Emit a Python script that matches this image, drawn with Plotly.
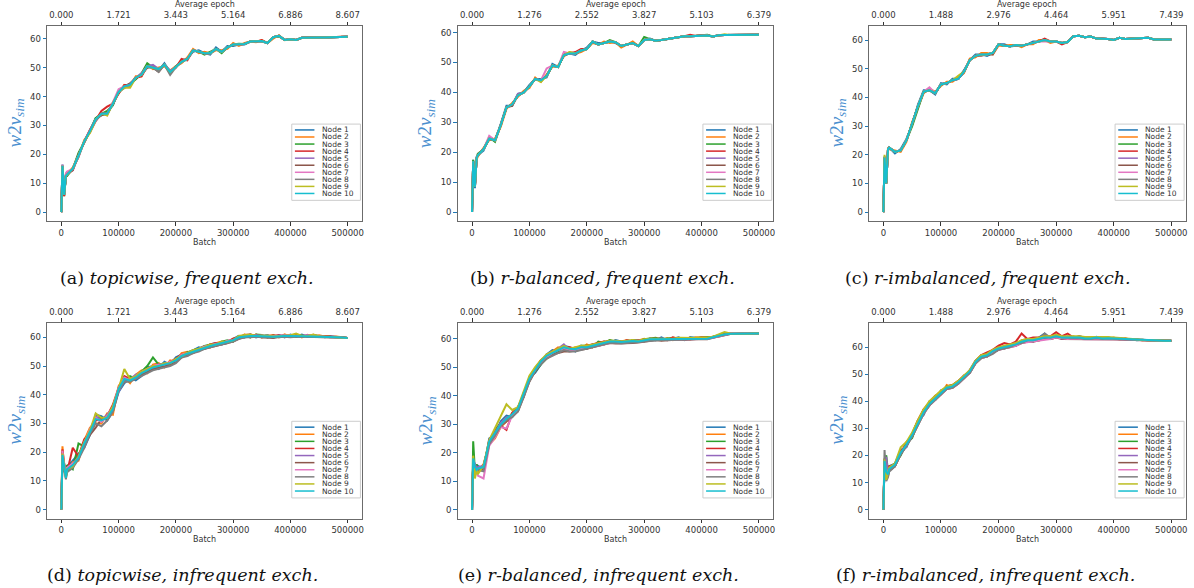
import plotly.graph_objects as go

# ---------------- data ----------------
BATCH = [0, 2000, 5000, 8000,
         10000, 20000, 30000, 40000, 50000, 60000, 70000, 80000, 90000, 100000,
         110000, 120000, 130000, 140000, 150000, 160000, 170000, 180000, 190000, 200000,
         210000, 220000, 230000, 240000, 250000, 260000, 270000, 280000, 290000, 300000,
         310000, 320000, 330000, 340000, 350000, 360000, 370000, 380000, 390000, 400000,
         410000, 420000, 430000, 440000, 450000, 460000, 470000, 480000, 490000, 500000]

BATCH_TICKS = [0, 100000, 200000, 300000, 400000, 500000]
Y_TICKS = [0, 10, 20, 30, 40, 50, 60]
EPOCH_TOPICWISE = ["0.000", "1.721", "3.443", "5.164", "6.886", "8.607"]
EPOCH_RBALANCED = ["0.000", "1.276", "2.552", "3.827", "5.103", "6.379"]
EPOCH_RIMBALANCED = ["0.000", "1.488", "2.976", "4.464", "5.951", "7.439"]
NODES = ["Node %d" % k for k in range(1, 11)]
CAPTIONS = [
    ("(a)", "topicwise, frequent exch."),
    ("(b)", "r-balanced, frequent exch."),
    ("(c)", "r-imbalanced, frequent exch."),
    ("(d)", "topicwise, infrequent exch."),
    ("(e)", "r-balanced, infrequent exch."),
    ("(f)", "r-imbalanced, infrequent exch."),
]

topicwise_frequent = [
    [0, 16.5, 6.5, 13, 13.5, 14.5, 20, 24, 28.5, 32.5,
     33.5, 34.5, 37, 42, 43, 44.5, 46, 48, 50, 50.5,
     49, 51.5, 48.5, 50, 52.5, 53, 55.5, 56, 55, 54.5,
     57, 55.5, 57.5, 57.5, 58, 58, 59, 59.2, 59, 58.5,
     60.5, 61, 59.6, 59.8, 59.6, 60.3, 60.4, 60.4, 60.4, 60.4,
     60.5, 60.6, 60.7, 60.7],
    [0, 15.5, 7, 12, 13, 15.5, 19, 25, 27.5, 31.5,
     34.5, 33.5, 38, 41, 44, 43.5, 47, 47, 51, 49.5,
     50, 50.5, 49, 50.5, 51.5, 53.5, 56.5, 55, 55.5, 55,
     56, 56, 56.5, 58.5, 57.5, 58.5, 59, 58.8, 59.5, 58.5,
     60, 61.2, 59.5, 59.8, 59.6, 60.3, 60.4, 60.4, 60.4, 60.4,
     60.5, 60.6, 60.7, 60.7],
    [0, 16, 5.5, 12.5, 12.5, 15, 20.5, 24, 28, 32.5,
     34, 35, 37, 42, 43.5, 44, 46, 48, 51.5, 50,
     49.5, 51, 48, 50.5, 52, 53, 56, 55.5, 54.5, 55.5,
     56.5, 55, 57, 58, 58.3, 58.2, 59, 59, 59.2, 58.5,
     60.5, 60.8, 59.6, 59.8, 59.6, 60.3, 60.4, 60.4, 60.4, 60.4,
     60.5, 60.6, 60.7, 60.7],
    [0, 15, 5.5, 13, 13, 14.5, 19.5, 24.5, 28.5, 32,
     35, 36.5, 37.5, 41, 44, 44, 46.5, 47, 50.5, 50.5,
     49.5, 51, 48.5, 50, 53, 52.5, 56, 55.5, 55, 55,
     56.5, 55.5, 57, 58, 58, 58.2, 59, 59, 59.5, 58.5,
     60.5, 61, 59.6, 59.8, 59.6, 60.3, 60.4, 60.4, 60.4, 60.4,
     60.5, 60.6, 60.7, 60.7],
    [0, 16, 6, 12.5, 13, 15, 19, 24.5, 28, 31.5,
     34, 34, 37.5, 41.5, 43, 44, 46.5, 48, 50.5, 51,
     49.5, 51, 49, 50.2, 52, 53, 56, 55.5, 55, 55,
     56.5, 55.5, 57, 58, 58, 58.2, 59, 59, 59.2, 58.5,
     60.5, 61, 59.6, 59.8, 59.6, 60.3, 60.4, 60.4, 60.4, 60.4,
     60.5, 60.6, 60.7, 60.7],
    [0, 16, 6.5, 12, 13, 15, 20, 24, 28, 32,
     33.5, 34, 37.5, 41.5, 43.5, 44.5, 46.5, 47.5, 50, 50,
     48.5, 51, 48.5, 50.2, 52, 53, 56, 55.5, 55, 55,
     56.5, 55.5, 57, 58, 58, 58.2, 59, 59, 59.2, 58.5,
     60.5, 61, 59.6, 59.8, 59.6, 60.3, 60.4, 60.4, 60.4, 60.4,
     60.5, 60.6, 60.7, 60.7],
    [0, 16.5, 6, 13.5, 14, 15, 19.5, 24.5, 28, 32,
     34, 34, 38, 42.5, 43.5, 44, 46.5, 47.5, 50.5, 50,
     49.5, 51, 48.5, 50.2, 52, 53, 56, 55.5, 55, 55,
     56.5, 55.5, 57, 58, 58, 58.2, 59, 59, 59.2, 58.5,
     60.5, 61, 59.6, 59.8, 59.6, 60.3, 60.4, 60.4, 60.4, 60.4,
     60.5, 60.6, 60.7, 60.7],
    [0, 16, 6, 12.5, 13, 15, 19.5, 24.5, 28, 32,
     34, 34, 37.5, 41.5, 43.5, 44, 46.5, 47.5, 50.5, 50,
     48.5, 51, 47.5, 50.2, 52, 53, 56, 55.5, 55, 55,
     56.5, 55.5, 57, 58, 58, 58.2, 59, 59, 59.2, 58.5,
     60.5, 61, 59.6, 59.8, 59.6, 60.3, 60.4, 60.4, 60.4, 60.4,
     60.5, 60.6, 60.7, 60.7],
    [0, 16, 6, 12.5, 13, 15, 19.5, 24.5, 27.5, 32,
     34, 33.5, 37.5, 41.5, 43, 43, 46.5, 47.5, 50.5, 50,
     49.5, 51, 48.5, 50.2, 52, 53, 56, 55.5, 55, 55,
     56.5, 55.5, 57, 58, 58, 58.2, 59, 59, 59.2, 58.5,
     60.5, 61, 59.6, 59.8, 59.6, 60.3, 60.4, 60.4, 60.4, 60.4,
     60.5, 60.6, 60.7, 60.7],
    [0, 16, 6, 12.5, 13, 15, 19.5, 24.5, 28, 32,
     34, 34, 37.5, 41.5, 43.5, 44, 46.5, 47.5, 50.5, 50,
     49.5, 51, 48.5, 50.2, 52, 53, 56, 55.5, 55, 55,
     56.5, 55.5, 57, 58, 58, 58.2, 59, 59, 59.2, 58.5,
     60.5, 61, 59.6, 59.8, 59.6, 60.3, 60.4, 60.4, 60.4, 60.4,
     60.5, 60.6, 60.7, 60.7],
]

rbalanced_frequent = [
    [0, 17.5, 8, 18.5, 19, 20.5, 25, 24, 29.5, 35.5,
     35.5, 39.5, 40, 42.5, 44.5, 44.5, 45, 49.5, 48.5, 53,
     53, 52.5, 54, 55, 57, 56.5, 56.5, 57, 56.5, 55.5,
     56, 56.5, 55.5, 57.5, 58, 57.3, 57.5, 57.8, 58, 58.5,
     58.8, 58.8, 58.9, 59, 59, 58.7, 59.1, 59.2, 59.2, 59.2,
     59.3, 59.3, 59.3, 59.3],
    [0, 16.5, 9, 17.5, 18.5, 21.5, 24, 24.5, 28.5, 34.5,
     36.5, 38.5, 40.5, 41.5, 45, 43.5, 46, 48.5, 49, 52,
     53.5, 53, 53.5, 54.5, 56.5, 56, 57, 56.5, 56.8, 55,
     56, 57, 55.5, 57.5, 57.8, 57.3, 57.5, 57.8, 58, 58.5,
     58.8, 58.8, 58.9, 59, 59, 58.7, 59.1, 59.2, 59.2, 59.2,
     59.3, 59.3, 59.3, 59.3],
    [0, 17.5, 8.5, 18, 19.5, 21, 25, 23.5, 29, 35,
     36, 39, 40, 42, 44.5, 44, 45.5, 49, 48.5, 52.5,
     53, 53, 54, 54.5, 57, 56, 56.5, 57.5, 56.8, 55.5,
     56, 56.5, 55.5, 58.5, 57.8, 57.3, 57.5, 57.8, 58, 58.5,
     58.8, 58.8, 58.9, 59, 59.3, 58.7, 59.1, 59.2, 59.2, 59.2,
     59.3, 59.3, 59.3, 59.3],
    [0, 17, 8.5, 18, 19, 21, 24.5, 24, 29, 35,
     36, 39, 40, 42, 44.5, 44, 45.5, 49, 48.5, 52.5,
     53, 53.5, 54.5, 54.5, 57, 56, 56.5, 57, 56.8, 55.5,
     56, 56.5, 55.5, 57.5, 57.8, 57.3, 57.5, 57.8, 58, 58.5,
     58.8, 59.3, 58.9, 59, 59, 58.7, 59.1, 59.2, 59.2, 59.2,
     59.3, 59.3, 59.3, 59.3],
    [0, 17, 8.5, 18, 19, 21, 24.5, 24, 29, 35,
     36, 39.5, 40, 42, 44.5, 44, 45.5, 49, 48.5, 52.5,
     53, 53, 54, 54.5, 57, 56, 56.5, 57, 56.8, 55.5,
     56, 56.5, 55.5, 57.5, 57.8, 57.3, 57.5, 57.8, 58, 58.5,
     58.8, 58.8, 58.9, 59, 59, 58.7, 59.1, 59.2, 59.2, 59.2,
     59.3, 59.3, 59.3, 59.3],
    [0, 17, 8.5, 18, 19, 21, 24.5, 24, 29, 35,
     35.5, 39, 40, 42, 44.5, 44, 45.5, 49, 48.5, 52.5,
     53, 53, 54, 54.5, 57, 56, 56.5, 57, 56.8, 55.5,
     56, 56.5, 55.5, 57.5, 57.8, 57.3, 57.5, 57.8, 58, 58.5,
     58.8, 58.8, 58.9, 59, 59, 58.7, 59.1, 59.2, 59.2, 59.2,
     59.3, 59.3, 59.3, 59.3],
    [0, 17, 8.5, 18, 19, 21, 25.5, 24, 29, 35,
     36, 39, 40, 42, 44.5, 44, 48, 49, 48.5, 53.5,
     53, 53, 54, 54.5, 57, 56, 56.5, 57, 56.8, 55.5,
     56, 56.5, 55.5, 57.5, 57.8, 57.3, 57.5, 57.8, 58, 58.5,
     58.8, 58.8, 58.9, 59, 59, 58.7, 59.1, 59.2, 59.2, 59.2,
     59.3, 59.3, 59.3, 59.3],
    [0, 17, 8.5, 18, 19, 21, 24.5, 24, 29, 35,
     36, 39, 40, 42, 44.5, 44, 45.5, 49, 48.5, 52.5,
     53, 53, 54, 54.5, 57, 56, 56.5, 57, 56.8, 55.5,
     56, 56.5, 55.5, 57.5, 57.8, 57.3, 57.5, 57.8, 58, 58.5,
     58.8, 58.8, 58.9, 59, 59, 58.7, 59.1, 59.2, 59.2, 59.2,
     59.3, 59.3, 59.3, 59.3],
    [0, 17, 8.5, 18, 19, 21, 24.5, 24, 29, 35,
     36, 39, 40, 42, 44.5, 43.5, 45.5, 49, 48.5, 52.5,
     53.5, 53, 54, 54.5, 57, 56, 56.5, 57, 56.8, 55.5,
     56, 56.5, 55.5, 57.5, 57.8, 57.3, 57.5, 57.8, 58, 58.5,
     58.8, 58.8, 58.9, 59, 59, 58.7, 59.1, 59.4, 59.2, 59.2,
     59.3, 59.3, 59.3, 59.3],
    [0, 17, 8.5, 18, 19, 21, 24.5, 24, 29, 35,
     36, 39, 40, 42, 44.5, 44, 45.5, 49, 48.5, 52.5,
     53, 53, 54, 54.5, 57, 56, 56.5, 57, 56.8, 55.5,
     56, 56.5, 55.5, 57.5, 57.8, 57.3, 57.5, 57.8, 58, 58.5,
     58.8, 58.8, 58.9, 59, 59, 58.7, 59.1, 59.2, 59.2, 59.2,
     59.3, 59.3, 59.3, 59.3],
]

rimbalanced_frequent = [
    [0, 19.5, 10.5, 21.5, 22.5, 20.5, 22, 25.5, 30.5, 37.5,
     42.5, 42.5, 41, 45, 44.5, 46.5, 46.5, 49.5, 53, 55,
     55, 54.5, 55.5, 58.5, 58.5, 57.8, 58, 58, 58.5, 59.5,
     59.5, 60, 59.5, 59.5, 59, 59.3, 61.3, 61.5, 61, 61.2,
     60.5, 60.5, 60.4, 60, 60.8, 60.4, 60.5, 60.5, 60.6, 60.8,
     60.2, 60.2, 60.2, 60.2],
    [0, 18.5, 10, 22.5, 22, 21.5, 21, 24.5, 31.5, 36.5,
     41.5, 43, 42, 44, 45.5, 45.5, 47, 48.5, 53.5, 54,
     55.5, 55.5, 55, 58, 58, 58.3, 58.3, 57.5, 58.5, 58.5,
     60, 60, 59, 59.5, 59, 59.3, 61.3, 61.5, 61, 61.2,
     60.5, 60.5, 60.4, 60, 60.8, 60.4, 60.5, 60.5, 60.6, 60.8,
     60.2, 60.2, 60.2, 60.2],
    [0, 19, 10, 22, 22.5, 21, 21.5, 25, 30, 36,
     42, 42.5, 41.5, 44.5, 45, 46, 46.5, 49, 53, 54.5,
     55, 55, 55.5, 58.5, 58, 57.8, 58.3, 58, 58.5, 59,
     59.5, 60, 59.5, 59.5, 59, 59.3, 61.3, 61.5, 61, 61.2,
     60.5, 60.5, 60.4, 60, 60.8, 60.4, 60.5, 60.5, 60.6, 60.8,
     60.2, 60.2, 60.2, 60.2],
    [0, 19, 10, 22, 22.5, 21, 21.5, 25, 31, 37,
     42, 42.5, 41.5, 44.5, 45, 46, 46.5, 49, 53, 54.5,
     55, 55, 55.5, 58.5, 58, 57.8, 58.3, 58, 58.5, 59,
     59.5, 60.5, 59.5, 59.5, 58.5, 59.3, 61.3, 61.5, 61, 61.2,
     60.5, 60.5, 60.4, 60, 60.8, 60.4, 60.5, 60.5, 60.6, 60.8,
     60.2, 60.2, 60.2, 60.2],
    [0, 19, 10, 22, 22.5, 21, 21.5, 25, 31, 37,
     42, 43, 41.5, 44.5, 45, 46, 46.5, 49, 53, 54.5,
     55, 55, 55.5, 58.5, 58, 57.8, 58.3, 58, 58.5, 59,
     59.5, 60, 59.5, 59.5, 59, 59.3, 61.3, 61.5, 61, 61.2,
     60.5, 60.5, 60.4, 60, 60.8, 60.4, 60.5, 60.5, 60.6, 60.8,
     60.2, 60.2, 60.2, 60.2],
    [0, 19, 10, 22, 22.5, 21, 21.5, 25, 31, 37,
     42, 42.5, 41.5, 44.5, 45, 46, 46.5, 49, 53, 54.5,
     54.5, 55, 55, 58.5, 58, 57.8, 58.3, 58, 58.5, 59,
     59.5, 60, 59.5, 59.5, 59, 59.3, 61.3, 61.5, 61, 61.2,
     60.5, 60.5, 60.4, 60, 60.8, 60.4, 60.5, 60.5, 60.6, 60.8,
     60.2, 60.2, 60.2, 60.2],
    [0, 19, 10, 22, 22.5, 21, 21.5, 25, 31, 37,
     42, 43.5, 41.5, 44.5, 45, 46, 46.5, 49, 53, 54.5,
     55, 55, 55.5, 58.5, 58, 57.8, 58.3, 58, 58.5, 59,
     59.5, 59.5, 59.5, 59.5, 59, 59.3, 61.3, 61.5, 61, 61.2,
     60.5, 60.5, 60.4, 60, 60.8, 60.4, 60.5, 60.5, 60.6, 60.8,
     60.2, 60.2, 60.2, 60.2],
    [0, 19, 10, 22, 22.5, 21, 21.5, 25, 31, 37,
     42, 42.5, 41.5, 44.5, 45, 46, 46.5, 49, 53, 54.5,
     55, 55, 55.5, 58.5, 58, 57.8, 58.3, 58, 58.5, 59,
     59.5, 60, 59.5, 59.5, 59, 59.3, 61.3, 61.5, 61, 61.2,
     60.5, 60.5, 60.4, 60, 60.8, 60.4, 60.5, 60.5, 60.6, 60.8,
     60.2, 60.2, 60.2, 60.2],
    [0, 20, 10, 22, 22.5, 21, 21.5, 25, 31, 37,
     42, 42.5, 41.5, 44.5, 45, 46, 47.5, 49, 53, 54.5,
     55, 55, 55.5, 58.5, 58, 57.8, 58.3, 58, 58.5, 59,
     59.5, 60, 59.5, 59.5, 59, 59.3, 61.3, 61.5, 61, 61.2,
     60.5, 60.5, 60.4, 60, 60.8, 60.4, 60.5, 60.5, 60.6, 60.8,
     60.2, 60.2, 60.2, 60.2],
    [0, 19, 10, 22, 22.5, 21, 21.5, 25, 31, 37,
     42, 42.5, 41.5, 44.5, 45, 46, 46.5, 49, 53, 54.5,
     55, 55, 55.5, 58.5, 58, 57.8, 58.3, 58, 58.5, 59,
     59.5, 60, 59.5, 59.5, 59, 59.3, 61.3, 61.5, 61, 61.2,
     60.5, 60.5, 60.4, 60, 60.8, 60.4, 60.5, 60.5, 60.6, 60.8,
     60.2, 60.2, 60.2, 60.2],
]

topicwise_infrequent = [
    [0, 18, 16, 12, 15, 17, 19.5, 21.5, 26, 33,
     32.5, 31, 34, 41, 44, 46, 45, 46.5, 49.5, 50,
     49, 51.5, 50.5, 53, 54, 53.5, 55.5, 56.5, 56, 57.5,
     58, 57.5, 58, 59.5, 60.5, 60, 61, 60, 60.5, 60.8,
     59.8, 60.8, 60, 61, 60.3, 61, 60.2, 60.8, 60.5, 60,
     60.4, 60.2, 60, 59.8],
    [0, 22, 14, 12.5, 13, 16.5, 17, 24, 28.5, 30,
     30, 33.5, 33, 43, 46, 44, 47, 48.5, 47.5, 50.5,
     51, 49.5, 52, 51.5, 54.5, 55, 54.5, 56, 57, 56.5,
     58, 58.5, 58, 59.5, 59.5, 61, 60, 61, 60, 60.5,
     60.8, 60, 61, 60.2, 60.8, 60, 60.9, 60.2, 60.7, 60.3,
     60, 60.3, 60.1, 59.8],
    [0, 20, 13.5, 12, 15.5, 14, 23, 22, 27.5, 32,
     32, 31.5, 36, 41.5, 45, 46.5, 45.5, 48, 50, 53,
     50.5, 51, 50.5, 52.5, 53, 54.8, 55.5, 56, 57, 57.5,
     57, 58.5, 59, 58.5, 60.5, 60.5, 60, 61, 60.8, 60,
     60.6, 60.2, 60.5, 60.8, 60.2, 60.7, 60.3, 60.5, 60.2, 60.4,
     60.2, 60, 60, 59.8],
    [0, 21, 16, 11.5, 13, 21.5, 18.5, 24.5, 26.5, 31,
     31.5, 32.5, 36.5, 42.5, 46.5, 45.5, 46, 47, 49, 49,
     50.5, 50, 51.5, 52.5, 54, 54, 55, 55.5, 56.5, 57.5,
     58, 58, 58.5, 59.5, 60, 60.8, 61, 60.5, 60, 60.5,
     60.5, 60.7, 60.3, 60.2, 61, 60.3, 60.5, 60.9, 60.2, 60.5,
     60.3, 60.1, 59.9, 59.8],
    [0, 18.5, 15.5, 13, 14.5, 16, 17.5, 23.5, 27, 32.5,
     31, 33, 35.5, 41, 45, 45.5, 47, 47.5, 48, 49.5,
     50, 51, 51, 52, 53.5, 54.5, 55.5, 55.5, 56.5, 57,
     57.5, 58, 58.5, 59, 60.3, 60, 60.5, 60.8, 60.3, 60.6,
     60.2, 60.4, 60.8, 60.5, 60.3, 60.5, 60.8, 60.3, 60.4, 60.2,
     60.2, 60, 59.9, 59.8],
    [0, 17, 14.5, 12, 13.5, 15, 19, 22.5, 26, 28.5,
     31.5, 32, 34.5, 42, 44.5, 45, 45.5, 47, 48, 49,
     49.5, 50, 50.5, 51.5, 53, 54, 54.5, 55.5, 56, 56.5,
     57, 57.5, 58, 58.5, 59.5, 60, 60.2, 60.3, 60, 60,
     59.8, 60.2, 60.3, 60.2, 60.3, 60.4, 60.2, 60.1, 60.2, 60,
     60, 59.9, 59.9, 59.8],
    [0, 20.5, 15, 11.5, 14.5, 16, 18, 23, 28, 32,
     30.5, 32.5, 35.5, 42.5, 46, 45, 46.5, 48, 49, 50,
     50.5, 50.5, 51.5, 52, 54, 54.5, 55, 56, 56.8, 57.2,
     57.8, 58, 58.8, 59, 60, 60.5, 60.7, 60.5, 60.6, 60.3,
     60.4, 60.6, 60.5, 60.7, 60.5, 60.6, 60.5, 60.6, 60.3, 60.2,
     60.3, 60.1, 59.9, 59.8],
    [0, 18, 14, 10.5, 13, 14.5, 17.5, 21.5, 26.5, 30,
     29, 31, 34, 41.5, 44.5, 44.5, 45.5, 46.5, 47.5, 48.5,
     49, 49.5, 50, 51, 53, 53.5, 54.5, 55, 56, 56.5,
     57, 57.5, 58, 58.5, 59.5, 60, 60, 60.2, 60, 60,
     59.8, 60, 60.2, 60, 60.2, 60.3, 60.3, 60.1, 60.1, 60,
     60, 59.9, 59.9, 59.8],
    [0, 19.5, 15.5, 11, 14, 15, 18.5, 23.5, 27.5, 33.5,
     32, 32, 36, 42, 49, 45.5, 46.5, 48, 49, 50,
     50, 51, 51, 52.5, 53.5, 54.5, 55.5, 56, 56.5, 57.5,
     57.5, 58.5, 58.5, 59, 60.5, 60.8, 61, 60.5, 60.5, 60.6,
     60.3, 60.5, 60.5, 60.7, 61.3, 60.5, 60.5, 61, 60.4, 60.3,
     60.2, 60, 60, 59.8],
    [0, 19, 15, 11, 14, 15.5, 18, 23, 27, 31.5,
     31, 32, 35, 42, 45.5, 45, 46, 47.5, 48.5, 49.5,
     50, 50.5, 51, 52, 53.5, 54.3, 55, 55.7, 56.5, 57,
     57.5, 58, 58.5, 59, 60, 60.3, 60.5, 60.5, 60.3, 60.3,
     60.2, 60.4, 60.5, 60.5, 60.5, 60.5, 60.5, 60.3, 60.2, 60.2,
     60.2, 60, 59.9, 59.8],
]

rbalanced_infrequent = [
    [0, 17, 14, 15, 15.5, 14, 25, 26, 31, 33,
     32.5, 36, 39.5, 46.5, 48, 51, 54.5, 56, 55.5, 57.5,
     57, 55.5, 57.5, 56.5, 58, 57.5, 59, 58.5, 59.5, 59,
     58.5, 59.5, 59.5, 59, 60, 59.5, 60.5, 59.5, 60, 60.5,
     59.5, 60.5, 60.3, 60.2, 60.5, 60.3, 61.2, 61.7, 61.6, 61.8,
     61.7, 61.6, 61.8, 61.8],
    [0, 16.5, 16, 13, 13.5, 16, 23, 25, 29, 31,
     34, 35, 41, 45, 49.5, 52.5, 53.5, 55.5, 57, 56.5,
     56, 57, 56.5, 58, 57, 58.5, 58, 59.5, 58.5, 59,
     59.5, 58.8, 59.5, 60, 59.5, 60, 59.5, 60.2, 59.5, 60.2,
     60.2, 59.7, 60.5, 60.3, 60.2, 60.8, 60.8, 61.3, 61.8, 61.6,
     61.8, 61.7, 61.7, 61.8],
    [0, 24, 13.5, 16, 14, 15.5, 23.5, 28, 30.5, 32.5,
     33, 35, 40, 46.5, 48.5, 51, 53, 54.5, 55.5, 57,
     56, 56.5, 57.5, 57.5, 57, 59, 58.5, 59.5, 59, 59,
     58.8, 59.5, 59, 59.8, 60, 60.3, 59.7, 60, 60.3, 60,
     60, 60.3, 60.2, 60.4, 60.5, 60.7, 61.2, 61.8, 61.6, 61.7,
     61.6, 61.7, 61.8, 61.8],
    [0, 17, 15, 13.5, 14, 14.5, 24.5, 27.5, 29.5, 28,
     34, 36, 40.5, 46, 49, 52.5, 54, 55.5, 56.5, 57,
     57, 56.5, 57, 57.5, 58, 58.5, 59, 59, 58.8, 58.5,
     59.5, 59, 59.5, 59.5, 60, 60, 60, 59.5, 60.5, 60,
     60, 60.3, 60, 60.5, 60.2, 60.5, 61, 61.5, 61.8, 61.7,
     61.7, 61.8, 61.7, 61.8],
    [0, 17.5, 16, 14.5, 15, 15.5, 23.5, 27, 30.5, 32.5,
     33, 35.5, 41, 45.5, 49.5, 51.5, 54.5, 55, 56.5, 58,
     56, 56.3, 57, 56.5, 57.8, 58, 58.5, 58.8, 59.3, 58.8,
     59.3, 59.2, 59.3, 59.5, 59.6, 59.8, 60, 59.8, 59.8, 60.2,
     59.8, 60.2, 60, 60.2, 60, 60.5, 61, 61.5, 61.7, 61.7,
     61.7, 61.7, 61.8, 61.8],
    [0, 16.5, 14.5, 13.5, 14, 14.5, 23, 26.5, 29.5, 31,
     33, 34.5, 40, 45, 48.5, 51.5, 53.5, 54.5, 55, 55.5,
     55.5, 55.8, 56, 56.5, 57, 57.5, 58, 58.5, 58.3, 58.3,
     58.5, 58.5, 58.7, 59, 59.3, 59.5, 59.3, 59.5, 59.5, 59.7,
     59.5, 59.7, 59.8, 59.8, 59.8, 60.3, 60.8, 61.3, 61.6, 61.6,
     61.6, 61.6, 61.7, 61.8],
    [0, 16, 14, 14, 12, 11, 22.5, 25.5, 29, 28.5,
     33, 35, 40, 45.5, 49, 51.5, 53.5, 55, 56, 56.5,
     56, 56, 56.5, 57, 57.5, 57.5, 58, 58.5, 58.5, 58.5,
     58.8, 58.8, 59, 59.2, 59.5, 59.5, 59.5, 59.5, 59.6, 59.7,
     59.7, 59.8, 59.8, 60, 60, 60.3, 60.8, 61.4, 61.7, 61.7,
     61.7, 61.7, 61.8, 61.8],
    [0, 17, 14.5, 13, 14, 13.5, 23, 26, 29.5, 31.5,
     32.5, 34.5, 39.5, 45, 49, 51, 53, 54, 55, 56,
     55.5, 55.5, 56, 56.5, 57, 57.5, 58, 58.5, 58.5, 58.3,
     58.5, 58.7, 58.7, 59, 59.3, 59.5, 59.5, 59.5, 59.5, 59.7,
     59.6, 59.8, 59.8, 59.9, 60, 60.4, 60.9, 61.4, 61.6, 61.6,
     61.6, 61.7, 61.7, 61.8],
    [0, 19, 11, 14, 12.5, 15.5, 24.5, 28.5, 32.5, 37,
     35, 36, 41.5, 47, 50, 52.5, 54.5, 55.5, 56.5, 57.5,
     56.5, 57, 57.5, 57.5, 58, 58.5, 59, 59.3, 59.3, 59,
     59.3, 59.5, 59.3, 59.8, 60, 60, 60, 60.2, 60, 60.3,
     60.2, 60.3, 60.2, 60.4, 60.4, 60.7, 61.4, 62.3, 61.8, 61.7,
     61.7, 61.7, 61.8, 61.8],
    [0, 18, 15, 14, 14.5, 15, 24, 27, 30, 32,
     33.5, 35.5, 40.5, 46, 49, 52, 54, 55, 56, 57,
     56.5, 56.3, 57, 57, 57.5, 58, 58.5, 59, 59, 58.8,
     59, 59.2, 59, 59.5, 59.8, 59.8, 59.8, 59.8, 59.8, 60,
     59.8, 60, 60, 60, 60, 60.5, 61, 61.5, 61.7, 61.7,
     61.7, 61.7, 61.8, 61.8],
]

rimbalanced_infrequent = [
    [0, 17, 15, 12.5, 16, 17, 22, 23, 28, 33,
     35, 40, 40.5, 44, 44.5, 46, 46.5, 49.5, 50.5, 55,
     56, 57.5, 58, 60, 59.5, 61, 60.5, 62.5, 63, 62,
     63.5, 65, 63, 64.5, 63, 64, 63, 64, 63.5, 63,
     63.8, 63, 63.6, 63, 63.3, 62.8, 63, 62.5, 62.7, 62.4,
     62.4, 62.3, 62.3, 62.3],
    [0, 19, 13, 14, 14.5, 16, 20.5, 25, 27, 31.5,
     37, 38.5, 42, 42.5, 46, 45, 47.5, 48.5, 51.5, 54,
     57, 56.5, 59, 59, 60.5, 60, 61.5, 61.5, 63, 63,
     62.5, 64, 63, 63.5, 64, 63, 64, 63, 63.5, 63.5,
     63.2, 63.5, 63, 63.5, 62.8, 63.2, 62.6, 62.9, 62.4, 62.6,
     62.4, 62.5, 62.3, 62.3],
    [0, 18.5, 20, 14, 15, 17, 20, 24.5, 26.5, 32.5,
     35.5, 39.5, 40.5, 43.5, 45.5, 46, 46.5, 49, 50.5, 54,
     56, 57, 58, 59, 60, 60, 61, 61.5, 62, 62.5,
     62.5, 63, 63.5, 63.5, 63.8, 63.5, 63.7, 63.3, 63, 63.2,
     63.3, 63, 63.2, 63, 62.9, 62.8, 62.7, 62.6, 62.5, 62.4,
     62.4, 62.3, 62.3, 62.3],
    [0, 17.5, 15, 13.5, 16, 16.5, 21.5, 24, 28, 33,
     37, 39.5, 42, 43, 45.5, 46, 47.5, 49.5, 51, 55,
     57, 58, 59, 60.5, 61.5, 61, 62, 65, 63, 63.5,
     63.5, 64, 64, 65.5, 64, 65, 63.5, 64, 63.5, 63.5,
     63.5, 63.5, 63.5, 63.3, 63, 63.2, 62.8, 62.7, 62.6, 62.5,
     62.6, 62.3, 62.3, 62.3],
    [0, 18, 19.5, 13, 15, 16, 20.5, 23.5, 27.5, 31.5,
     36, 38.5, 41.5, 43.5, 45, 45.5, 47, 49, 51.5, 55,
     56.5, 57, 58, 59.5, 60, 60.5, 61.5, 62, 62.5, 63,
     63, 63.5, 63, 64, 63.5, 63.5, 63.5, 63.5, 63.2, 63.5,
     63.2, 63.2, 63, 63.2, 63, 63, 62.8, 62.7, 62.5, 62.5,
     62.4, 62.3, 62.3, 62.3],
    [0, 17.5, 14, 12.5, 14.5, 16, 20.5, 23.5, 27, 31.5,
     35.5, 38.5, 40.5, 42.5, 44.5, 45, 46.5, 48.5, 50.5, 54,
     56, 56.5, 58, 59, 59.5, 60, 60.5, 61.5, 62, 62,
     62.5, 63, 63, 63.5, 63, 63, 63, 63, 62.8, 62.8,
     63, 62.8, 63, 62.8, 62.8, 62.7, 62.6, 62.5, 62.4, 62.4,
     62.3, 62.3, 62.3, 62.3],
    [0, 18, 14.5, 13, 15, 16.5, 21, 23.5, 27.5, 31.5,
     35.5, 38.5, 40.5, 42.5, 44.5, 45, 46.5, 48.5, 50.5, 54,
     56, 56.5, 58, 59, 59.5, 60, 60.5, 61.5, 61.8, 62,
     62.5, 62.8, 63, 63.5, 63.2, 63, 63.2, 63, 62.9, 62.9,
     63, 63, 63, 62.9, 62.8, 62.8, 62.6, 62.5, 62.4, 62.4,
     62.3, 62.3, 62.3, 62.3],
    [0, 22, 10.5, 12, 14, 16, 20.5, 23.5, 27, 31.5,
     35.5, 38.5, 40.5, 42.5, 44.5, 45, 46.5, 48.5, 50.5, 54,
     56, 56.5, 57.5, 59, 59.5, 60, 61, 61.5, 62.5, 62.5,
     63, 65, 63.5, 64, 63.5, 63.5, 63.3, 63.3, 63, 63,
     63.3, 63, 63.2, 63, 62.9, 62.8, 62.7, 62.6, 62.5, 62.4,
     62.4, 62.3, 62.3, 62.3],
    [0, 18.5, 11, 14, 15.5, 17, 23, 25, 28.5, 33,
     37, 40, 42, 44, 45.5, 46, 47.5, 49.5, 51.5, 55,
     57, 57.5, 59, 60, 60.5, 61, 61.5, 62.5, 63, 63,
     63.5, 64, 64, 64.5, 64, 64, 64.2, 64, 63.7, 63.7,
     63.8, 63.6, 63.7, 63.5, 63.3, 63.2, 63, 62.8, 62.6, 62.5,
     62.5, 62.4, 62.3, 62.3],
    [0, 18, 14, 13, 15, 16.5, 21, 24, 27.5, 32,
     36, 39, 41, 43, 45, 45.5, 47, 49, 51, 54.5,
     56.5, 57, 58.5, 59.5, 60, 60.5, 61, 62, 62.5, 62.5,
     63, 63.5, 63.5, 64, 63.5, 63.5, 63.5, 63.5, 63.2, 63.2,
     63.5, 63.2, 63.3, 63.2, 63, 63, 62.8, 62.7, 62.5, 62.5,
     62.4, 62.3, 62.3, 62.3],
]

PANELS = [topicwise_frequent, rbalanced_frequent, rimbalanced_frequent,
          topicwise_infrequent, rbalanced_infrequent, rimbalanced_infrequent]
EPOCHS = [EPOCH_TOPICWISE, EPOCH_RBALANCED, EPOCH_RIMBALANCED,
          EPOCH_TOPICWISE, EPOCH_RBALANCED, EPOCH_RIMBALANCED]
Y_RANGES = [[-3.07, 64.4], [-3.0, 62.2], [-3.1, 64.9],
            [-3.2, 65.1], [-3.1, 65.6], [-3.35, 69.0]]

for p in PANELS:
    for s in p:
        assert len(s) == len(BATCH), len(s)

# ---------------- style / layout ----------------
COLORS = ["#1f77b4", "#ff7f0e", "#2ca02c", "#d62728", "#9467bd",
          "#8c564b", "#e377c2", "#7f7f7f", "#bcbd22", "#17becf"]
W, H = 1194, 588
COLS = [(47, 362), (457.7, 773.3), (869, 1185.7)]
ROWS = [(26, 221), (322.7, 518.7)]
CAP_X = [187, 602, 988, 182, 598, 986]
CAP_Y = [278, 575]
SANS = "DejaVu Sans"
TICKFONT = dict(family=SANS, size=8.5, color="#333")
SPINE = "#6b6b6b"


def ax(n, kind):
    return kind if n == 1 else f"{kind}{n}"


fig = go.Figure()
annotations = []
shapes = []

for i, series in enumerate(PANELS):
    r, c = divmod(i, 3)
    xb_n, xt_n, y_n = 2 * i + 1, 2 * i + 2, i + 1
    xb, xt, ya = ax(xb_n, "x"), ax(xt_n, "x"), ax(y_n, "y")
    for k, vals in enumerate(series):
        fig.add_trace(go.Scatter(x=BATCH, y=vals, mode="lines", name=NODES[k],
                                 line=dict(color=COLORS[k], width=2),
                                 xaxis=xb, yaxis=ya, showlegend=False,
                                 hoverinfo="skip"))
    # invisible copy bound to the top (epoch) axis so that axis gets drawn
    fig.add_trace(go.Scatter(x=BATCH, y=series[-1], mode="lines",
                             line=dict(width=0, color="rgba(0,0,0,0)"), opacity=0,
                             xaxis=xt, yaxis=ya, showlegend=False,
                             hoverinfo="skip"))
    x0, x1 = COLS[c]
    y0, y1 = ROWS[r]
    xdom = [x0 / W, x1 / W]
    ydom = [1 - y1 / H, 1 - y0 / H]
    common = dict(range=[-25000, 525000], tickvals=BATCH_TICKS, ticks="outside",
                  ticklen=3.5, tickwidth=1, tickcolor="#333", showline=True,
                  linecolor=SPINE, linewidth=1, showgrid=False, zeroline=False,
                  tickfont=TICKFONT, automargin=False, fixedrange=True)
    fig.layout[ax(xb_n, "xaxis")] = dict(domain=xdom, anchor=ya, side="bottom",
                                         ticktext=[str(v) for v in BATCH_TICKS],
                                         **common)
    fig.layout[ax(xt_n, "xaxis")] = dict(overlaying=xb, anchor=ya, side="top",
                                         ticktext=EPOCHS[i], **common)
    fig.layout[ax(y_n, "yaxis")] = dict(domain=ydom, anchor=xb, range=Y_RANGES[i],
                                        tickvals=Y_TICKS, ticks="outside", ticklen=3.5,
                                        tickcolor="#1f77b4", tickwidth=1,
                                        showline=True, mirror=True, linecolor=SPINE,
                                        linewidth=1, showgrid=False, zeroline=False,
                                        tickfont=TICKFONT, automargin=False,
                                        fixedrange=True)
    xc = (x0 + x1) / 2
    annotations.append(dict(text="Batch", xref="paper", yref="paper", x=xc / W,
                            y=1 - (y1 + 21) / H, showarrow=False,
                            font=dict(family=SANS, size=8, color="#333"),
                            xanchor="center", yanchor="middle"))
    annotations.append(dict(text="Average epoch", xref="paper", yref="paper",
                            x=xc / W, y=1 - (y0 - 21) / H, showarrow=False,
                            font=dict(family=SANS, size=8, color="#333"),
                            xanchor="center", yanchor="middle"))
    annotations.append(dict(text="<i>w</i>2<i>v</i><sub><i>sim</i></sub>",
                            xref="paper", yref="paper", x=(x0 - 31) / W,
                            y=1 - ((y0 + y1) / 2) / H, textangle=-90,
                            showarrow=False,
                            font=dict(family="Liberation Serif", size=19,
                                      color="#4a8fcf"),
                            xanchor="center", yanchor="middle"))
    lab, txt = CAPTIONS[i]
    annotations.append(dict(text=f"{lab} <i>{txt}</i>", xref="paper", yref="paper",
                            x=CAP_X[i] / W, y=1 - CAP_Y[r] / H, showarrow=False,
                            font=dict(family="DejaVu Serif", size=17.5, color="#111"),
                            xanchor="center", yanchor="middle"))
    xd, yd = f"{xb} domain", f"{ya} domain"
    shapes.append(dict(type="rect", xref=xd, yref=yd, x0=0.777, x1=0.995,
                       y0=0.106, y1=0.497, fillcolor="rgba(255,255,255,0.85)",
                       line=dict(color="#cccccc", width=1), layer="above"))
    for k in range(10):
        ey = 0.467 - k * 0.0362
        shapes.append(dict(type="line", xref=xd, yref=yd, x0=0.787, x1=0.849,
                           y0=ey, y1=ey, line=dict(color=COLORS[k], width=1.5),
                           layer="above"))
        annotations.append(dict(text=NODES[k], xref=xd, yref=yd, x=0.866, y=ey,
                                showarrow=False, xanchor="left", yanchor="middle",
                                font=dict(family=SANS, size=7.5, color="#333")))

fig.update_layout(width=W, height=H, margin=dict(l=0, r=0, t=0, b=0),
                  paper_bgcolor="white", plot_bgcolor="white",
                  showlegend=False, annotations=annotations, shapes=shapes)

fig.write_html("out.html", config={"displayModeBar": False},
               post_script="document.body.style.margin='0px';"
                           "document.body.style.overflow='hidden';")
